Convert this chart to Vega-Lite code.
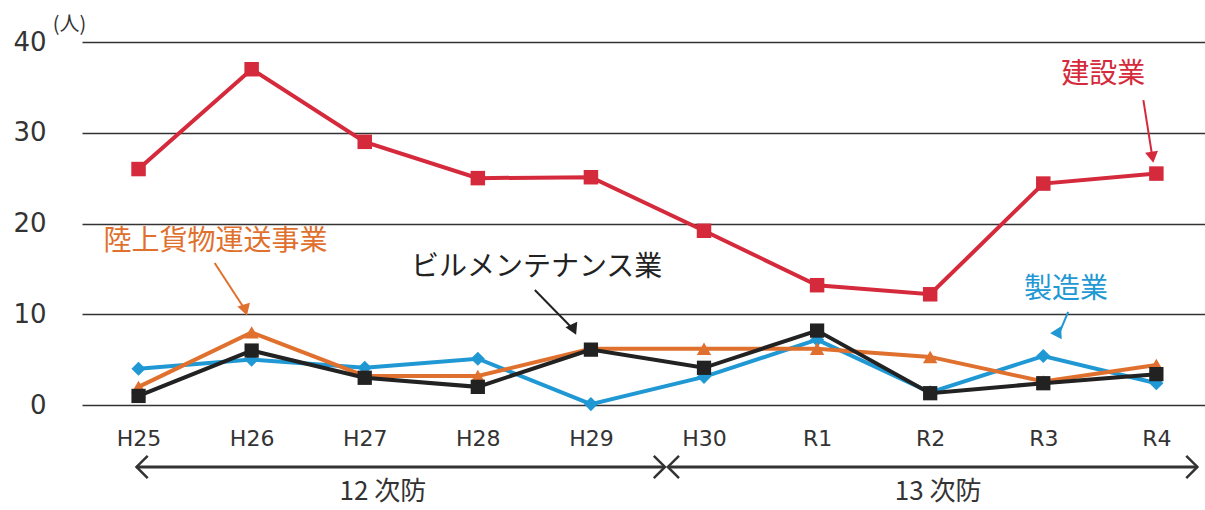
{
  "$schema": "https://vega.github.io/schema/vega-lite/v6.json",
  "width": 1123,
  "height": 363,
  "autosize": {"type": "none"},
  "padding": {"left": 82, "top": 42, "right": 0, "bottom": 105},
  "background": "white",
  "config": {"view": {"stroke": null}},
  "datasets": {
    "series": [
      {"i": 0, "year": "H25", "series": "建設業", "value": 26},
      {"i": 1, "year": "H26", "series": "建設業", "value": 37},
      {"i": 2, "year": "H27", "series": "建設業", "value": 29},
      {"i": 3, "year": "H28", "series": "建設業", "value": 25},
      {"i": 4, "year": "H29", "series": "建設業", "value": 25.1},
      {"i": 5, "year": "H30", "series": "建設業", "value": 19.2},
      {"i": 6, "year": "R1", "series": "建設業", "value": 13.2},
      {"i": 7, "year": "R2", "series": "建設業", "value": 12.2},
      {"i": 8, "year": "R3", "series": "建設業", "value": 24.4},
      {"i": 9, "year": "R4", "series": "建設業", "value": 25.5},
      {"i": 0, "year": "H25", "series": "製造業", "value": 4},
      {"i": 1, "year": "H26", "series": "製造業", "value": 5},
      {"i": 2, "year": "H27", "series": "製造業", "value": 4.1},
      {"i": 3, "year": "H28", "series": "製造業", "value": 5.1},
      {"i": 4, "year": "H29", "series": "製造業", "value": 0.1},
      {"i": 5, "year": "H30", "series": "製造業", "value": 3.1},
      {"i": 6, "year": "R1", "series": "製造業", "value": 7.2},
      {"i": 7, "year": "R2", "series": "製造業", "value": 1.4},
      {"i": 8, "year": "R3", "series": "製造業", "value": 5.4},
      {"i": 9, "year": "R4", "series": "製造業", "value": 2.4},
      {"i": 0, "year": "H25", "series": "陸上貨物運送事業", "value": 2},
      {"i": 1, "year": "H26", "series": "陸上貨物運送事業", "value": 8},
      {"i": 2, "year": "H27", "series": "陸上貨物運送事業", "value": 3.2},
      {"i": 3, "year": "H28", "series": "陸上貨物運送事業", "value": 3.2},
      {"i": 4, "year": "H29", "series": "陸上貨物運送事業", "value": 6.2},
      {"i": 5, "year": "H30", "series": "陸上貨物運送事業", "value": 6.2},
      {"i": 6, "year": "R1", "series": "陸上貨物運送事業", "value": 6.2},
      {"i": 7, "year": "R2", "series": "陸上貨物運送事業", "value": 5.3},
      {"i": 8, "year": "R3", "series": "陸上貨物運送事業", "value": 2.6},
      {"i": 9, "year": "R4", "series": "陸上貨物運送事業", "value": 4.4},
      {"i": 0, "year": "H25", "series": "ビルメンテナンス業", "value": 1},
      {"i": 1, "year": "H26", "series": "ビルメンテナンス業", "value": 6},
      {"i": 2, "year": "H27", "series": "ビルメンテナンス業", "value": 3},
      {"i": 3, "year": "H28", "series": "ビルメンテナンス業", "value": 2},
      {"i": 4, "year": "H29", "series": "ビルメンテナンス業", "value": 6.1},
      {"i": 5, "year": "H30", "series": "ビルメンテナンス業", "value": 4.1},
      {"i": 6, "year": "R1", "series": "ビルメンテナンス業", "value": 8.2},
      {"i": 7, "year": "R2", "series": "ビルメンテナンス業", "value": 1.3},
      {"i": 8, "year": "R3", "series": "ビルメンテナンス業", "value": 2.4},
      {"i": 9, "year": "R4", "series": "ビルメンテナンス業", "value": 3.4}
    ],
    "labels": [
      {"series": "建設業", "label": "建設業", "x": 8.53, "y": 36.4},
      {"series": "陸上貨物運送事業", "label": "陸上貨物運送事業", "x": 0.68, "y": 17.96},
      {"series": "ビルメンテナンス業", "label": "ビルメンテナンス業", "x": 3.52, "y": 15.1},
      {"series": "製造業", "label": "製造業", "x": 8.2, "y": 12.67}
    ],
    "arrows": [
      {"series": "建設業", "x": 8.885, "y": 33.6, "x2": 8.965, "y2": 27.3},
      {"series": "陸上貨物運送事業", "x": 0.673, "y": 15.65, "x2": 0.944, "y2": 10.47},
      {"series": "ビルメンテナンス業", "x": 3.504, "y": 12.67, "x2": 3.848, "y2": 8.3},
      {"series": "製造業", "x": 8.22, "y": 10.25, "x2": 8.136, "y2": 7.77}
    ],
    "periods": [
      {"label": "12 次防", "x": -0.018, "x2": 4.655, "mid": 2.16, "y": -6.83, "ty": -9.6},
      {"label": "13 次防", "x": 4.68, "x2": 9.363, "mid": 7.07, "y": -6.83, "ty": -9.6}
    ],
    "heads": [
      {"dir": "left", "x": -0.018, "y": -6.83},
      {"dir": "right", "x": 4.655, "y": -6.83},
      {"dir": "left", "x": 4.68, "y": -6.83},
      {"dir": "right", "x": 9.363, "y": -6.83}
    ],
    "unit": [{"label": "(人)", "x": -0.61, "y": 41.9}]
  },
  "layer": [
    {
      "data": {"name": "series"},
      "mark": {"type": "line", "strokeWidth": 4},
      "encoding": {
        "x": {
          "field": "i", "type": "quantitative",
          "scale": {"domain": [-0.5, 9.43], "nice": false, "zero": false},
          "axis": {
            "values": [0, 1, 2, 3, 4, 5, 6, 7, 8, 9],
            "labelExpr": "['H25','H26','H27','H28','H29','H30','R1','R2','R3','R4'][datum.value]",
            "domain": false, "ticks": false, "grid": false, "title": null,
            "labelFont": "DejaVu Sans", "labelFontSize": 22, "labelColor": "#333333",
            "labelPadding": 23
          }
        },
        "y": {
          "field": "value", "type": "quantitative",
          "scale": {"domain": [0, 40], "nice": false},
          "axis": {
            "values": [0, 10, 20, 30, 40],
            "domain": false, "ticks": false, "title": null,
            "grid": true, "gridColor": "#333333", "gridWidth": 1.5,
            "labelFont": "DejaVu Sans", "labelFontSize": 26, "labelColor": "#333333",
            "labelPadding": 36
          }
        },
        "color": {
          "field": "series", "type": "nominal", "legend": null,
          "scale": {
            "domain": ["建設業", "陸上貨物運送事業", "ビルメンテナンス業", "製造業"],
            "range": ["#d42a3c", "#e0702e", "#222222", "#1f98d4"]
          }
        },
        "detail": {"field": "series"}
      }
    },
    {
      "data": {"name": "series"},
      "mark": {"type": "point", "filled": true, "opacity": 1},
      "encoding": {
        "x": {"field": "i", "type": "quantitative"},
        "y": {"field": "value", "type": "quantitative"},
        "color": {"field": "series", "type": "nominal", "legend": null},
        "shape": {
          "field": "series", "type": "nominal", "legend": null,
          "scale": {
            "domain": ["建設業", "陸上貨物運送事業", "ビルメンテナンス業", "製造業"],
            "range": ["square", "triangle-up", "square", "diamond"]
          }
        },
        "size": {
          "field": "series", "type": "nominal", "legend": null,
          "scale": {
            "domain": ["建設業", "陸上貨物運送事業", "ビルメンテナンス業", "製造業"],
            "range": [210, 200, 225, 180]
          }
        }
      }
    },
    {
      "data": {"name": "labels"},
      "mark": {"type": "text", "font": "Noto Sans CJK JP", "fontSize": 28, "align": "center", "baseline": "middle"},
      "encoding": {
        "x": {"field": "x", "type": "quantitative"},
        "y": {"field": "y", "type": "quantitative"},
        "text": {"field": "label"},
        "color": {"field": "series", "type": "nominal", "legend": null}
      }
    },
    {
      "data": {"name": "arrows"},
      "mark": {"type": "rule", "strokeWidth": 2},
      "encoding": {
        "x": {"field": "x", "type": "quantitative"},
        "y": {"field": "y", "type": "quantitative"},
        "x2": {"field": "x2"},
        "y2": {"field": "y2"},
        "color": {"field": "series", "type": "nominal", "legend": null}
      }
    },
    {
      "data": {"name": "arrows"},
      "mark": {"type": "point", "shape": "triangle-up", "filled": true, "opacity": 1, "size": 170},
      "encoding": {
        "x": {"field": "x2", "type": "quantitative"},
        "y": {"field": "y2", "type": "quantitative"},
        "color": {"field": "series", "type": "nominal", "legend": null},
        "angle": {
          "field": "series", "type": "nominal", "legend": null,
          "scale": {
            "domain": ["建設業", "陸上貨物運送事業", "ビルメンテナンス業", "製造業"],
            "range": [171, 147, 136, 203]
          }
        }
      }
    },
    {
      "data": {"name": "periods"},
      "mark": {"type": "rule", "strokeWidth": 3, "color": "#333333"},
      "encoding": {
        "x": {"field": "x", "type": "quantitative"},
        "x2": {"field": "x2"},
        "y": {"field": "y", "type": "quantitative"}
      }
    },
    {
      "data": {"name": "heads"},
      "transform": [{"filter": "datum.dir === 'left'"}],
      "mark": {"type": "point", "shape": "M 1 -1 L 0 0 L 1 1", "filled": false, "opacity": 1, "strokeWidth": 2.5, "color": "#333333", "size": 500},
      "encoding": {
        "x": {"field": "x", "type": "quantitative"},
        "y": {"field": "y", "type": "quantitative"}
      }
    },
    {
      "data": {"name": "heads"},
      "transform": [{"filter": "datum.dir === 'right'"}],
      "mark": {"type": "point", "shape": "M -1 -1 L 0 0 L -1 1", "filled": false, "opacity": 1, "strokeWidth": 2.5, "color": "#333333", "size": 500},
      "encoding": {
        "x": {"field": "x", "type": "quantitative"},
        "y": {"field": "y", "type": "quantitative"}
      }
    },
    {
      "data": {"name": "periods"},
      "mark": {"type": "text", "font": "Noto Sans CJK JP", "fontSize": 26, "color": "#333333", "align": "center", "baseline": "middle"},
      "encoding": {
        "x": {"field": "mid", "type": "quantitative"},
        "y": {"field": "ty", "type": "quantitative"},
        "text": {"field": "label"}
      }
    },
    {
      "data": {"name": "unit"},
      "mark": {"type": "text", "font": "Noto Sans CJK JP", "fontSize": 20, "color": "#333333", "align": "center", "baseline": "middle"},
      "encoding": {
        "x": {"field": "x", "type": "quantitative"},
        "y": {"field": "y", "type": "quantitative"},
        "text": {"field": "label"}
      }
    }
  ]
}
